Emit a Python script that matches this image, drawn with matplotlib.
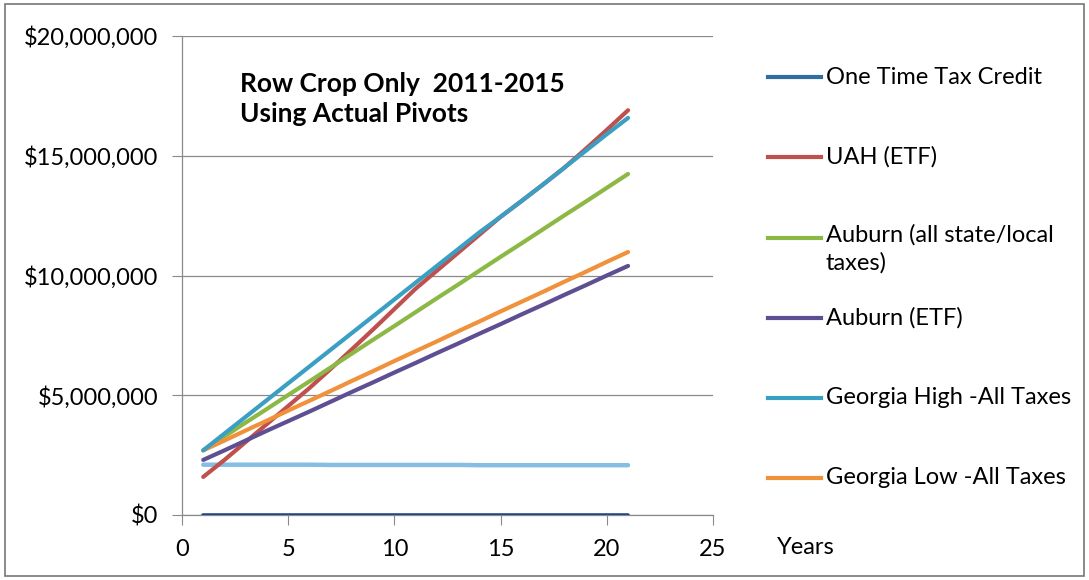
import matplotlib.pyplot as plt
import matplotlib.ticker as mticker
from matplotlib.lines import Line2D
from matplotlib.patches import Rectangle

plt.rcParams['font.family'] = ['Lato', 'DejaVu Sans']

years = list(range(1, 22))

# cumulative values, millions of dollars
one_time_credit = [0.02, 0.02, 0.02, 0.02, 0.02, 0.02, 0.02, 0.02, 0.02, 0.02, 0.02,
                   0.02, 0.02, 0.02, 0.02, 0.02, 0.02, 0.02, 0.02, 0.02, 0.02]
uah_etf = [1.59, 2.30, 3.05, 3.80, 4.55, 5.30, 6.10, 6.92, 7.75, 8.60, 9.45,
           10.20, 10.95, 11.70, 12.45, 13.12, 13.80, 14.50, 15.28, 16.08, 16.90]
auburn_all = [2.70, 3.28, 3.86, 4.43, 5.01, 5.58, 6.16, 6.74, 7.32, 7.89, 8.47,
              9.05, 9.62, 10.20, 10.78, 11.35, 11.93, 12.51, 13.08, 13.66, 14.24]
auburn_etf = [2.30, 2.70, 3.11, 3.52, 3.92, 4.32, 4.73, 5.14, 5.54, 5.95, 6.35,
              6.76, 7.16, 7.57, 7.97, 8.38, 8.78, 9.19, 9.59, 10.00, 10.40]
georgia_high = [2.70, 3.40, 4.10, 4.80, 5.50, 6.20, 6.90, 7.60, 8.30, 9.00, 9.70,
                10.40, 11.10, 11.80, 12.45, 13.12, 13.80, 14.50, 15.20, 15.90, 16.58]
georgia_low = [2.70, 3.11, 3.53, 3.94, 4.36, 4.77, 5.18, 5.60, 6.01, 6.43, 6.84,
               7.25, 7.67, 8.08, 8.50, 8.91, 9.32, 9.74, 10.15, 10.57, 10.98]
baseline = [2.10, 2.10, 2.10, 2.10, 2.10, 2.10, 2.09, 2.09, 2.09, 2.09, 2.09,
            2.09, 2.09, 2.08, 2.08, 2.08, 2.08, 2.08, 2.08, 2.08, 2.08]

labels = ["One Time Tax Credit", "UAH (ETF)", "Auburn (all state/local\ntaxes)",
          "Auburn (ETF)", "Georgia High -All Taxes", "Georgia Low -All Taxes"]
series = [one_time_credit, uah_etf, auburn_all, auburn_etf, georgia_high, georgia_low]
colors = ["#24468f", "#c0504d", "#8cb845", "#5e4f93", "#3a9fc2", "#f0913b"]
legend_colors = ["#2f6e9e", "#c0504d", "#8cb845", "#5e4f93", "#3a9fc2", "#f0913b"]

fs = 17

fig = plt.figure(figsize=(10.89, 5.8), dpi=100)
ax = fig.add_axes([182 / 1089, 65 / 580, 531 / 1089, 479 / 580])

ax.plot(years, [v * 1e6 for v in baseline], color="#86bde3", lw=3.2,
        solid_capstyle="round", zorder=3)
order = [1, 2, 3, 5, 4, 0]
for i in order:
    ax.plot(years, [v * 1e6 for v in series[i]], color=colors[i],
            lw=3.0 if i else 2.6, solid_capstyle="round", zorder=4)

ax.set_xlim(0, 25)
ax.set_ylim(0, 20e6)
ax.set_xticks([0, 5, 10, 15, 20, 25])
ax.set_yticks([0, 5e6, 10e6, 15e6, 20e6])
ax.yaxis.set_major_formatter(mticker.FuncFormatter(lambda v, p: "${:,.0f}".format(v)))
ax.grid(axis="y", color="#8a8a8a", lw=0.9)
ax.set_axisbelow(True)
for s in ["top", "right"]:
    ax.spines[s].set_visible(False)
for s in ["left", "bottom"]:
    ax.spines[s].set_color("#8a8a8a")
    ax.spines[s].set_linewidth(0.9)
ax.tick_params(axis="y", length=7, color="#8a8a8a", labelsize=fs, pad=10)
ax.tick_params(axis="x", length=7, color="#8a8a8a", labelsize=fs, pad=10)

ax.text(0.11, 0.925, "Row Crop Only  2011-2015\nUsing Actual Pivots",
        transform=ax.transAxes, fontsize=19, fontweight="bold",
        va="top", ha="left", linespacing=1.3)

fig.text(777 / 1089, 1 - 548 / 580, "Years", fontsize=fs, va="center", ha="left")

# legend drawn by hand so the wrapped label sits like the original
ys = [77, 157, 238, 318, 398, 478]
for lab, col, y in zip(labels, legend_colors, ys):
    fy = 1 - y / 580
    fig.add_artist(Line2D([768 / 1089, 821 / 1089], [fy, fy], color=col, lw=3))
    if "\n" in lab:
        fig.text(826 / 1089, fy + 14 / 580, lab, fontsize=fs, va="top", ha="left",
                 linespacing=1.4)
    else:
        fig.text(826 / 1089, fy, lab, fontsize=fs, va="center", ha="left")

fig.add_artist(Rectangle((5 / 1089, 4 / 580), 1079 / 1089, 572 / 580,
                         transform=fig.transFigure, fill=False,
                         edgecolor="#777777", lw=1.2))

fig.savefig("out.png", dpi=100)
